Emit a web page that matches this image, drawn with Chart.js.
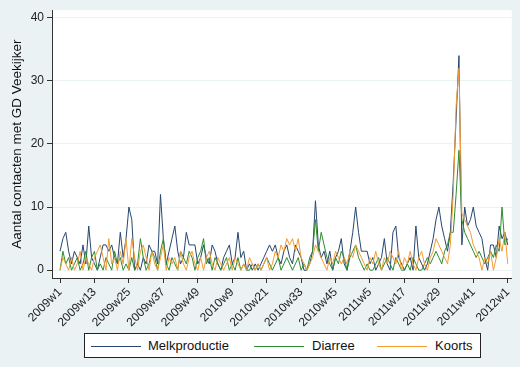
<!DOCTYPE html>
<html>
<head>
<meta charset="utf-8">
<script src="https://cdn.jsdelivr.net/npm/chart.js@4/dist/chart.umd.min.js"></script>
<style>
  html, body { margin: 0; padding: 0; background: #eaf2f3; }
  #wrap { position: relative; width: 520px; height: 367px; }
  #grafiek { position: absolute; left: 0; top: 0; }
  #legenda {
    position: absolute; left: 84px; top: 333px; width: 395px; height: 23px;
    background: #fff; border: 1px solid #222;
    font-family: "Liberation Sans", Arial, sans-serif; font-size: 13px; color: #111;
  }
  #legenda span { position: absolute; top: 4px; }
  #legenda i { position: absolute; top: 12px; height: 1px; width: 50px; }
</style>
</head>
<body>
<div id="wrap">
  <canvas id="grafiek" width="520" height="367"></canvas>
  <div id="legenda">
    <i style="left:6px;background:#26466f"></i><span style="left:63px">Melkproductie</span>
    <i style="left:169px;background:#2e8b2e"></i><span style="left:227px">Diarree</span>
    <i style="left:292px;background:#f39c34"></i><span style="left:350px">Koorts</span>
  </div>
</div>
<script>
// weken 2009w1 t/m 2012w1 (157 weken)
const jaren = [2009, 2010, 2011];
const weken = [];
jaren.forEach(j => { for (let w = 1; w <= 52; w++) weken.push(j + 'w' + w); });
weken.push('2012w1');

const tickWeken = [0, 12, 24, 36, 48, 60, 72, 84, 96, 108, 120, 132, 144, 156];
const yTicks = [0, 10, 20, 30, 40];

const melkproductie = [
  3,5,6,3,1,3,2,1,4,1,
  7,2,1,0,2,4,4,3,4,2,
  1,6,2,5,10,8,0,1,0,2,
  1,4,3,3,1,12,5,1,3,5,
  7,3,1,2,6,4,4,4,1,2,
  4,2,1,4,3,1,0,2,3,4,
  1,2,6,2,3,0,1,0,1,0,
  1,2,3,4,3,4,2,1,3,4,
  2,1,4,3,2,0,0,1,3,11,
  4,2,3,1,3,0,2,3,5,1,
  0,3,6,10,6,3,3,3,1,2,
  0,1,2,5,1,0,6,7,2,1,
  0,1,2,0,7,2,1,0,1,3,
  5,8,10,7,5,3,6,14,24,34,
  4,10,7,8,10,7,6,5,2,0,
  4,4,2,7,5,6,4
];
const diarree = [
  0,3,1,2,0,1,2,0,1,3,
  0,2,3,0,1,0,2,1,0,3,
  1,2,0,1,0,2,0,1,5,2,
  0,1,3,2,0,3,5,1,0,2,
  1,0,3,2,1,3,2,0,2,3,
  5,1,2,0,2,1,0,1,2,0,
  1,0,2,0,1,0,0,1,0,1,
  0,1,2,1,0,1,2,0,1,2,
  1,0,1,2,0,1,0,2,3,8,
  3,6,4,2,1,0,2,1,3,2,
  0,2,3,4,2,1,0,1,0,0,
  1,2,0,1,2,1,0,2,1,0,
  0,1,0,2,1,0,0,1,2,1,
  2,3,2,1,3,4,6,6,12,19,
  8,6,5,4,3,2,3,2,1,2,
  3,2,4,3,10,4,5
];
const koorts = [
  0,2,1,0,2,0,1,3,0,2,
  1,0,2,3,4,2,0,5,1,2,
  0,3,1,5,0,5,2,0,3,4,
  2,0,3,1,0,2,4,0,2,1,
  2,0,3,1,0,2,3,1,0,2,
  0,2,3,1,0,2,1,0,1,2,
  0,2,1,0,1,0,2,1,0,1,
  0,1,2,0,1,3,2,4,3,5,
  4,5,3,5,2,1,0,1,2,4,
  3,2,1,0,2,1,3,2,1,2,
  1,3,2,4,3,2,1,0,2,1,
  3,1,0,2,1,3,2,1,3,0,
  2,1,3,1,0,2,3,1,0,2,
  3,5,4,3,2,1,4,12,26,32,
  9,8,7,6,4,3,2,0,2,1,
  3,0,2,5,3,6,1
];

function punten(reeks) {
  return reeks.map((v, i) => ({ x: i, y: v }));
}

// witte achtergrond voor het plotgebied
const plotAchtergrond = {
  id: 'plotAchtergrond',
  beforeDraw(chart) {
    const a = chart.chartArea;
    const c = chart.ctx;
    c.save();
    c.fillStyle = '#ffffff';
    c.fillRect(a.left, a.top, a.right - a.left, a.bottom - a.top);
    c.restore();
  }
};

const lettertype = '"Liberation Sans", Arial, sans-serif';

const ctx = document.getElementById('grafiek').getContext('2d');
const grafiek = new Chart(ctx, {
  type: 'line',
  data: {
    datasets: [
      { label: 'Melkproductie', data: punten(melkproductie), borderColor: '#26466f', order: 2 },
      { label: 'Diarree', data: punten(diarree), borderColor: '#2e8b2e', order: 1 },
      { label: 'Koorts', data: punten(koorts), borderColor: '#f39c34', order: 0 }
    ]
  },
  options: {
    responsive: false,
    animation: false,
    layout: { padding: { top: 3, right: 7, left: 0, bottom: 0 } },
    elements: {
      line: { borderWidth: 1, tension: 0 },
      point: { radius: 0 }
    },
    plugins: { legend: { display: false }, tooltip: { enabled: false } },
    scales: {
      x: {
        type: 'linear',
        min: -2.8,
        max: 157.4,
        afterBuildTicks: s => { s.ticks = tickWeken.map(v => ({ value: v })); },
        afterFit: s => { s.height = 89; },
        ticks: {
          autoSkip: false,
          minRotation: 45,
          maxRotation: 45,
          padding: 2,
          color: '#222',
          font: { family: lettertype, size: 12 },
          callback: v => weken[v]
        },
        grid: { drawOnChartArea: false, color: '#333', tickLength: 5 },
        border: { color: '#333', width: 1 }
      },
      y: {
        min: -1.24,
        max: 41.2,
        afterBuildTicks: s => { s.ticks = yTicks.map(v => ({ value: v })); },
        afterFit: s => { s.width = 52; },
        ticks: { padding: 3, color: '#222', font: { family: lettertype, size: 12 } },
        grid: { color: '#eaf2f3', tickColor: '#333', tickLength: 5 },
        border: { color: '#333', width: 1 },
        title: {
          display: true,
          text: 'Aantal contacten met GD Veekijker',
          color: '#111',
          padding: { top: 9, bottom: 0 },
          font: { family: lettertype, size: 13.5 }
        }
      }
    }
  },
  plugins: [plotAchtergrond]
});
</script>
</body>
</html>
